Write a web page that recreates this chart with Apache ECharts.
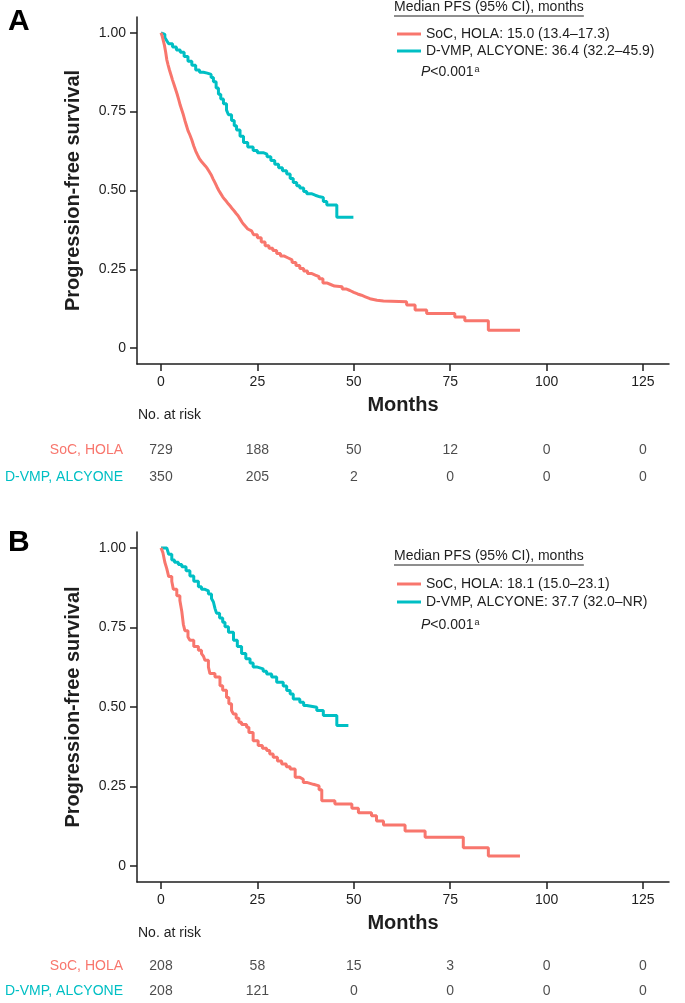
<!DOCTYPE html>
<html><head><meta charset="utf-8">
<script src="https://cdn.jsdelivr.net/npm/echarts@6/dist/echarts.min.js"></script>
<style>html,body{margin:0;padding:0;background:#fff}#c{width:685px;height:1003px}</style>
</head><body><div id="c"></div><script>
// ---------- DATA ----------
const xTicks = [0, 25, 50, 75, 100, 125];
const yTicks = [0, 0.25, 0.5, 0.75, 1];
const yTickLabels = ['0', '0.25', '0.50', '0.75', '1.00'];
const groups = ['SoC, HOLA', 'D-VMP, ALCYONE'];
const legendTitle = 'Median PFS (95% CI), months';
const legendA = ['SoC, HOLA: 15.0 (13.4–17.3)', 'D-VMP, ALCYONE: 36.4 (32.2–45.9)'];
const legendB = ['SoC, HOLA: 18.1 (15.0–23.1)', 'D-VMP, ALCYONE: 37.7 (32.0–NR)'];
const riskTimes = [0, 25, 50, 75, 100, 125];
const riskSocA = [729, 188, 50, 12, 0, 0];
const riskDvA = [350, 205, 2, 0, 0, 0];
const riskSocB = [208, 58, 15, 3, 0, 0];
const riskDvB = [208, 121, 0, 0, 0, 0];

const socA = [[0,1],[0.3,0.99],[0.6,0.975],[0.9,0.96],[1.2,0.94],[1.5,0.915],[1.8,0.9],[2.2,0.882],[2.6,0.866],[3,0.85],[3.4,0.835],[3.8,0.82],[4.2,0.805],[4.6,0.788],[5,0.77],[5.4,0.755],[5.8,0.74],[6.2,0.722],[6.6,0.706],[7,0.69],[7.5,0.676],[8,0.66],[8.5,0.641],[9,0.625],[9.5,0.612],[10,0.6],[10.5,0.592],[11,0.585],[11.5,0.578],[12,0.57],[12.5,0.56],[13,0.55],[13.5,0.537],[14,0.525],[14.5,0.512],[15,0.5],[15.5,0.49],[16,0.48],[16.5,0.472],[17,0.465],[17.5,0.457],[18,0.45],[18.5,0.442],[19,0.435],[19.5,0.427],[20,0.42],[20.5,0.41],[21,0.4],[21.5,0.392],[22,0.385],[22.5,0.378],[23,0.372],[23.5,0.366],[24,0.36],[25,0.35],[26,0.337],[27,0.325],[28,0.317],[29,0.31],[30,0.3],[31,0.292],[32,0.286],[33,0.28],[34,0.272],[35,0.262],[36,0.253],[37,0.245],[38,0.237],[39,0.232],[40,0.227],[41,0.22],[42,0.207],[43,0.202],[44,0.197],[45,0.195],[47,0.188],[48,0.183],[49,0.177],[50,0.172],[51,0.168],[52,0.163],[53,0.157],[54.2,0.152],[56,0.15],[57.7,0.147],[63.7,0.137],[65.9,0.121],[68.9,0.11],[76.2,0.099],[78.8,0.087],[84.9,0.057],[93.1,0.057]];
const dvA = [[0,1],[0.5,0.995],[1,0.985],[1.5,0.975],[2,0.965],[3,0.955],[4,0.945],[5,0.938],[6,0.925],[7,0.91],[8,0.897],[9,0.882],[10,0.875],[11,0.872],[12,0.868],[13,0.858],[13.6,0.845],[14.3,0.825],[14.9,0.805],[15.5,0.79],[16.2,0.775],[17,0.755],[17.5,0.74],[18.3,0.722],[19,0.705],[19.6,0.692],[20.5,0.672],[21.4,0.652],[22.5,0.638],[23.9,0.627],[25,0.62],[26.5,0.615],[27.5,0.607],[28.5,0.595],[29.5,0.583],[30.5,0.572],[31.5,0.563],[32.6,0.552],[33.5,0.538],[34.3,0.525],[35.2,0.515],[36,0.508],[37,0.497],[37.8,0.49],[39,0.485],[40,0.48],[41.2,0.478],[42.1,0.465],[43,0.454],[45.6,0.415],[49.9,0.415]];
const socB = [[0,1],[0.5,0.985],[1,0.955],[1.5,0.935],[2,0.91],[2.8,0.895],[3.2,0.87],[4.1,0.85],[4.9,0.835],[5.4,0.8],[5.8,0.76],[6.2,0.74],[7,0.72],[7.5,0.71],[8.5,0.69],[9.7,0.678],[10.5,0.668],[11,0.66],[11.4,0.647],[12.3,0.625],[12.7,0.605],[14,0.594],[15.3,0.567],[16,0.553],[17,0.53],[17.6,0.51],[18.3,0.489],[18.8,0.478],[19.5,0.465],[20.2,0.452],[20.9,0.445],[22.2,0.436],[22.8,0.42],[23.9,0.394],[25.2,0.379],[26.3,0.37],[27.4,0.363],[28.2,0.352],[29.1,0.342],[30.2,0.33],[31.3,0.321],[32.5,0.312],[33.5,0.305],[34.8,0.279],[36,0.273],[36.9,0.263],[37.8,0.257],[39.5,0.252],[41,0.24],[41.7,0.205],[45.1,0.195],[49.5,0.182],[51.2,0.168],[54.6,0.158],[55.9,0.142],[57.7,0.129],[63.3,0.11],[68.5,0.091],[78.4,0.058],[84.9,0.032],[93.1,0.032]];
const dvB = [[0,1],[1.5,0.994],[2,0.98],[2.8,0.962],[3.5,0.955],[4.5,0.948],[5.4,0.941],[6.5,0.928],[7.5,0.912],[8.5,0.895],[9.7,0.878],[10.5,0.87],[11.4,0.865],[12.3,0.855],[13.1,0.841],[13.6,0.83],[14,0.81],[14.4,0.795],[15.2,0.78],[16,0.766],[16.6,0.752],[17.5,0.735],[18.8,0.71],[19.8,0.69],[20.9,0.668],[22,0.652],[23.1,0.638],[23.9,0.626],[24.8,0.62],[26.5,0.612],[27.4,0.604],[28.7,0.594],[30,0.578],[31.7,0.566],[32.6,0.552],[33.5,0.541],[34.3,0.525],[36,0.515],[37,0.505],[37.8,0.499],[40.4,0.489],[42.1,0.473],[45.6,0.442],[48.6,0.442]];

// ---------- STYLE ----------
const FONT = 'Liberation Sans, Arial, Helvetica, sans-serif';
const RED = '#F8766D', TEAL = '#00BFC4', INK = '#1e1e1e';
const XMIN = -6.22, XMAX = 131.75, YMIN = -0.05, YMAX = 1.05;

const chart = echarts.init(document.getElementById('c'), null, {renderer: 'canvas'});

function plotX(gi) {
  return {
    gridIndex: gi, type: 'value', min: XMIN, max: XMAX,
    axisLine: {show: true, onZero: false, lineStyle: {color: INK, width: 1.5}},
    axisTick: {show: true, length: 7, customValues: xTicks, lineStyle: {color: INK, width: 1.5}},
    axisLabel: {customValues: xTicks, fontSize: 14, color: INK, fontFamily: FONT, margin: 11},
    splitLine: {show: false},
    name: 'Months', nameLocation: 'middle', nameGap: 31,
    nameTextStyle: {fontSize: 20, fontWeight: 'bold', color: INK, fontFamily: FONT}
  };
}
function plotY(gi) {
  return {
    gridIndex: gi, type: 'value', min: YMIN, max: YMAX,
    axisLine: {show: true, onZero: false, lineStyle: {color: INK, width: 1.5}},
    axisTick: {show: true, length: 7, customValues: yTicks, lineStyle: {color: INK, width: 1.5}},
    axisLabel: {customValues: yTicks, fontSize: 14, color: INK, fontFamily: FONT, margin: 11,
      formatter: v => yTickLabels[yTicks.findIndex(t => Math.abs(t - v) < 1e-6)]},
    splitLine: {show: false},
    name: 'Progression-free survival', nameLocation: 'middle', nameGap: 54,
    nameTextStyle: {fontSize: 20, fontWeight: 'bold', color: INK, fontFamily: FONT}
  };
}
function riskX(gi) {
  return {gridIndex: gi, type: 'value', min: XMIN, max: XMAX, show: false};
}
function riskY(gi) {
  return {
    gridIndex: gi, type: 'category', data: groups, inverse: true,
    axisLine: {show: false}, axisTick: {show: false}, splitLine: {show: false},
    axisLabel: {margin: 14, fontSize: 14, fontFamily: FONT,
      formatter: v => (v === groups[0] ? '{r|' : '{t|') + v + '}',
      rich: {r: {color: RED, fontSize: 14, fontFamily: FONT}, t: {color: TEAL, fontSize: 14, fontFamily: FONT}}}
  };
}
function km(name, data, color, xi) {
  return {
    type: 'line', name, data, step: 'end', showSymbol: false, symbol: 'none',
    xAxisIndex: xi, yAxisIndex: xi, color,
    lineStyle: {color, width: 3}, z: color === TEAL ? 3 : 4, animation: false
  };
}
function risk(values, row, xi) {
  return {
    type: 'scatter', xAxisIndex: xi, yAxisIndex: xi, symbolSize: 1,
    itemStyle: {color: 'rgba(0,0,0,0)'}, animation: false, silent: true,
    data: riskTimes.map((t, i) => ({value: [t, row], n: values[i]})),
    label: {show: true, position: 'inside', fontSize: 14, color: INK, fontFamily: FONT,
      formatter: p => String(p.data.n)}
  };
}

function textW(str, size, weight) {
  const c = document.createElement('canvas').getContext('2d');
  c.font = (weight || 'normal') + ' ' + size + 'px ' + FONT;
  return c.measureText(str).width;
}
const titleW = textW(legendTitle, 14);

function legendBlock(names, top, gap) {
  return {
    data: names, orient: 'vertical', left: 392, top, itemGap: gap,
    itemWidth: 24, itemHeight: 3, icon: 'rect', selectedMode: false,
    textStyle: {fontSize: 14, color: INK, fontFamily: FONT}
  };
}
function panelGraphics(letter, letterY, titleY, pY, riskLabelY) {
  return [
    {type: 'text', left: 8, top: letterY - 15, style: {text: letter, font: 'bold 30px ' + FONT, fill: '#000'}},
    {type: 'text', left: 394, top: titleY - 8, style: {text: legendTitle, font: '14px ' + FONT, fill: INK}},
    {type: 'line', shape: {x1: 394, y1: titleY + 8, x2: 394 + titleW, y2: titleY + 8}, style: {stroke: INK, lineWidth: 1}},
    {type: 'text', left: 421, top: pY - 8, style: {
      text: '{i|P}{n|<0.001}{s|a}',
      rich: {i: {font: 'italic 14px ' + FONT, fill: INK}, n: {font: '14px ' + FONT, fill: INK},
             s: {font: '9px ' + FONT, fill: INK, verticalAlign: 'top', padding: [0, 0, 6, 1]}}}},
    {type: 'text', left: 138, top: riskLabelY - 8, style: {text: 'No. at risk', font: '14px ' + FONT, fill: INK}}
  ];
}

const option = {
  backgroundColor: '#fff',
  animation: false,
  textStyle: {fontFamily: FONT},
  grid: [
    {left: 137, top: 17, width: 532, height: 347},
    {left: 137, top: 436.5, width: 532, height: 54},
    {left: 137, top: 532, width: 532, height: 350},
    {left: 137, top: 954.5, width: 532, height: 54}
  ],
  xAxis: [plotX(0), riskX(1), plotX(2), riskX(3)],
  yAxis: [plotY(0), riskY(1), plotY(2), riskY(3)],
  legend: [legendBlock(legendA, 22, 3), legendBlock(legendB, 572, 4)],
  series: [
    km(legendA[0], socA, RED, 0),
    km(legendA[1], dvA, TEAL, 0),
    risk(riskSocA, 0, 1),
    risk(riskDvA, 1, 1),
    km(legendB[0], socB, RED, 2),
    km(legendB[1], dvB, TEAL, 2),
    risk(riskSocB, 0, 3),
    risk(riskDvB, 1, 3)
  ],
  graphic: [].concat(
    panelGraphics('A', 22, 8, 73, 416),
    panelGraphics('B', 543, 557, 626, 934)
  )
};
chart.setOption(option);
</script></body></html>
